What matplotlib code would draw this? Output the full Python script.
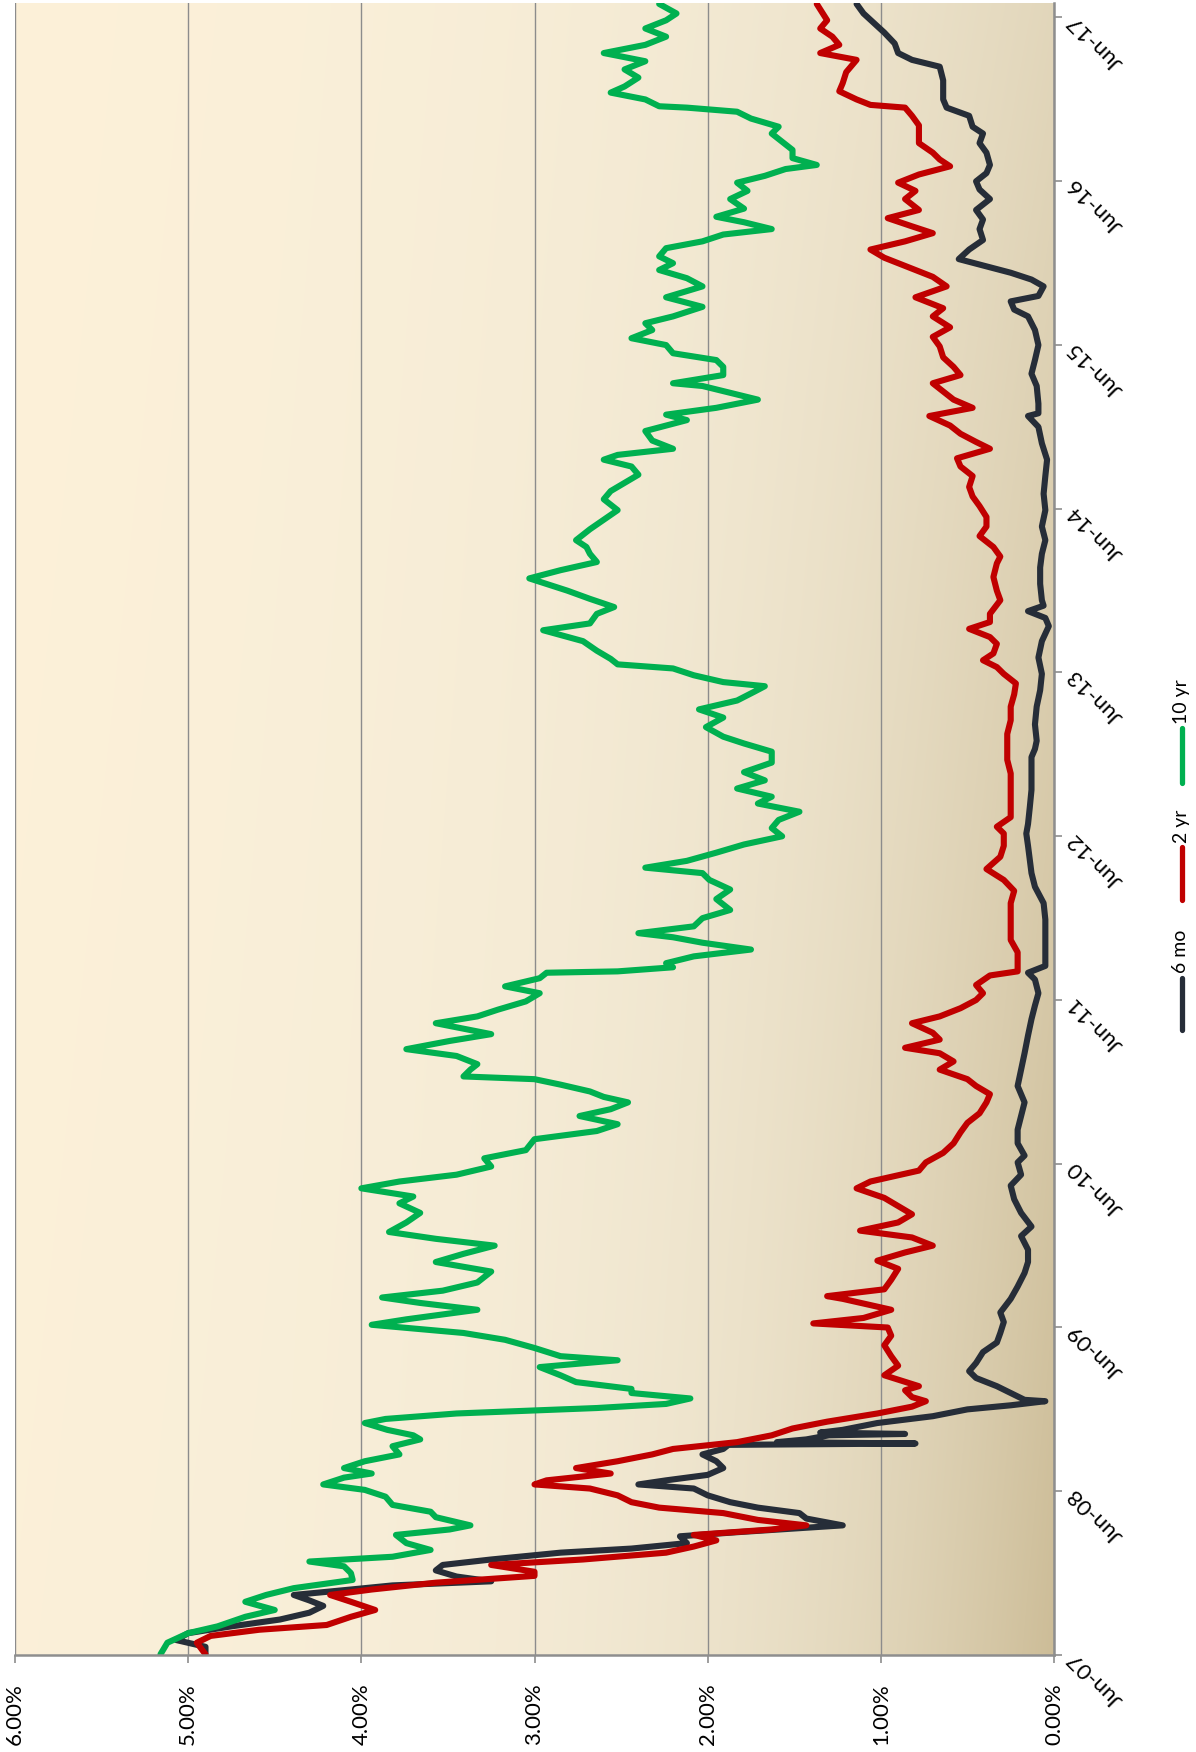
import numpy as np
import pandas as pd
import matplotlib
matplotlib.use('Agg')
import matplotlib.pyplot as plt
import matplotlib.dates as mdates
from matplotlib.lines import Line2D
from matplotlib.ticker import FuncFormatter

plt.rcParams['font.family'] = ['Lato', 'DejaVu Sans']

START = pd.Timestamp('2007-06-01')
END = pd.Timestamp('2017-07-03')

## DATA: months after Jun-07 and yield in percent
mo6_months = [0.05, 0.6, 1.1, 1.6, 2.1, 2.6, 3.1, 3.6, 4.0, 4.4, 4.8, 5.1, 5.4, 5.75, 6.2, 6.6, 7.0,
              7.5, 7.8, 8.2, 8.7, 9.0, 9.5, 10.0, 10.4, 10.8, 11.2, 11.7, 12.2, 12.5, 12.8, 13.2,
              13.7, 14.2, 14.7, 15.1, 15.4, 15.5, 15.6, 15.8, 16.1, 16.2, 16.3, 16.5, 17.0, 17.5,
              18.0, 18.3, 18.5, 18.6, 18.7, 19.2, 19.7, 20.3, 20.8, 21.4, 22.2, 22.9, 23.6, 24.4,
              25.1, 26.1, 27.0, 28.0, 28.8, 29.7, 30.7, 31.4, 32.4, 33.4, 34.4, 35.2, 36.1, 36.6,
              37.5, 38.5, 39.5, 40.5, 41.7, 42.9, 44.1, 45.4, 46.6, 47.6, 48.5, 49.5, 50.0, 50.5,
              51.5, 52.7, 53.9, 55.1, 56.3, 57.3, 58.3, 59.3, 60.2, 60.9, 62.1, 63.4, 64.6, 65.8,
              66.4, 67.0, 68.2, 69.5, 70.7, 71.9, 73.1, 74.3, 75.4, 76.0, 76.5, 76.9, 77.3, 78.5,
              79.7, 80.7, 81.7, 82.7, 83.9, 85.1, 86.4, 87.6, 88.8, 90.0, 90.8, 91.0, 91.7, 93.0,
              93.9, 94.9, 96.0, 97.1, 98.1, 98.6, 99.2, 99.6, 100.3, 100.8, 101.3, 101.8, 102.3,
              103.0, 103.7, 104.5, 105.2, 105.9, 106.7, 107.4, 108.0, 108.6, 109.2, 110.1, 110.8,
              111.5, 112.0, 112.8, 113.4, 114.0, 114.7, 115.4, 116.4, 116.9, 117.4, 118.1, 118.9,
              119.6, 120.3, 121.0]
mo6_yield = [4.90, 4.90, 5.07, 5.00, 4.75, 4.47, 4.30, 4.22, 4.30, 4.39, 4.06, 3.82, 3.25, 3.45,
             3.57, 3.53, 3.25, 2.85, 2.44, 2.12, 2.16, 1.83, 1.22, 1.43, 1.47, 1.71, 1.87, 2.00,
             2.08, 2.40, 2.24, 2.00, 1.91, 1.95, 2.03, 1.91, 1.88, 0.80, 1.60, 1.43, 1.30, 0.86,
             1.35, 1.22, 1.02, 0.70, 0.50, 0.25, 0.12, 0.05, 0.17, 0.25, 0.33, 0.45, 0.49, 0.45,
             0.41, 0.33, 0.31, 0.29, 0.31, 0.25, 0.21, 0.17, 0.15, 0.15, 0.19, 0.13, 0.19, 0.23,
             0.25, 0.19, 0.21, 0.17, 0.21, 0.21, 0.19, 0.17, 0.21, 0.19, 0.17, 0.15, 0.13, 0.11,
             0.09, 0.11, 0.15, 0.05, 0.05, 0.05, 0.05, 0.06, 0.11, 0.13, 0.14, 0.15, 0.16, 0.15,
             0.14, 0.13, 0.13, 0.13, 0.11, 0.10, 0.11, 0.10, 0.08, 0.07, 0.09, 0.07, 0.03, 0.05,
             0.15, 0.06, 0.07, 0.08, 0.08, 0.07, 0.05, 0.07, 0.05, 0.06, 0.05, 0.04, 0.07, 0.09,
             0.15, 0.09, 0.09, 0.10, 0.13, 0.11, 0.09, 0.11, 0.15, 0.23, 0.25, 0.09, 0.06, 0.13,
             0.25, 0.40, 0.55, 0.49, 0.41, 0.43, 0.41, 0.45, 0.37, 0.43, 0.45, 0.39, 0.37, 0.39,
             0.43, 0.41, 0.47, 0.49, 0.62, 0.64, 0.64, 0.64, 0.66, 0.82, 0.90, 0.92, 0.98, 1.04,
             1.10, 1.14]

yr2_months = [0.05, 0.9, 1.4, 1.85, 2.2, 2.8, 3.3, 3.9, 4.4, 4.8, 5.3, 5.8, 6.1, 6.6, 7.0, 7.5,
              7.95, 8.4, 8.8, 9.2, 9.5, 9.9, 10.4, 10.8, 11.2, 11.7, 12.2, 12.5, 12.8, 13.3, 13.7,
              14.2, 14.7, 15.1, 15.6, 16.1, 16.6, 17.1, 17.7, 18.2, 18.6, 18.9, 19.4, 19.7, 20.5,
              21.2, 21.9, 22.7, 23.4, 24.0, 24.3, 24.7, 25.3, 26.1, 26.3, 26.8, 27.5, 28.3, 28.9,
              29.5, 30.0, 30.6, 31.1, 31.7, 32.3, 32.9, 33.5, 34.2, 34.7, 35.5, 36.1, 36.8, 37.5,
              38.3, 39.0, 39.7, 40.5, 41.1, 41.7, 42.2, 42.9, 43.5, 44.1, 44.5, 45.1, 45.6, 46.3,
              46.8, 47.4, 48.0, 48.5, 49.1, 49.8, 50.1, 50.7, 51.5, 52.4, 53.4, 54.1, 55.1, 56.0,
              56.8, 57.6, 58.5, 59.3, 60.2, 60.7, 61.4, 62.4, 63.4, 64.6, 65.6, 66.5, 67.5, 68.5,
              69.5, 70.4, 71.2, 71.9, 72.4, 72.9, 73.4, 74.1, 74.6, 75.2, 75.7, 76.3, 77.3, 78.0,
              79.0, 80.0, 80.5, 81.2, 82.0, 82.7, 83.4, 84.2, 84.9, 85.6, 86.4, 87.1, 87.7, 88.4,
              88.9, 89.5, 90.1, 90.8, 91.4, 92.0, 92.6, 93.2, 93.8, 94.4, 95.1, 95.9, 96.6, 97.3,
              98.1, 98.7, 99.5, 100.3, 101.0, 101.8, 102.4, 103.0, 103.6, 104.2, 104.7, 105.3,
              105.9, 106.7, 107.3, 107.9, 108.5, 109.1, 109.6, 110.1, 110.8, 111.5, 112.1, 112.8,
              113.4, 113.6, 114.0, 114.6, 115.2, 116.0, 116.9, 117.4, 118.0, 118.6, 119.2, 119.8,
              120.6, 121.0]
yr2_yield = [4.90, 4.95, 4.87, 4.59, 4.20, 4.06, 3.92, 4.06, 4.18, 3.94, 3.57, 3.00, 3.00, 3.25,
             2.72, 2.24, 2.08, 1.95, 2.08, 1.63, 1.43, 1.71, 1.91, 2.28, 2.44, 2.52, 2.68, 3.00,
             2.93, 2.56, 2.76, 2.52, 2.32, 2.20, 1.83, 1.63, 1.51, 1.31, 1.02, 0.82, 0.74, 0.82,
             0.86, 0.78, 0.98, 0.90, 0.94, 0.98, 0.94, 0.96, 1.39, 1.10, 0.94, 1.22, 1.31, 0.98,
             0.94, 0.90, 1.02, 0.86, 0.70, 0.82, 1.12, 0.90, 0.82, 0.90, 0.98, 1.14, 1.06, 0.78,
             0.74, 0.64, 0.58, 0.54, 0.50, 0.43, 0.39, 0.37, 0.45, 0.50, 0.66, 0.58, 0.66, 0.86,
             0.66, 0.70, 0.82, 0.66, 0.54, 0.45, 0.41, 0.45, 0.37, 0.21, 0.21, 0.21, 0.25, 0.25,
             0.25, 0.25, 0.23, 0.29, 0.39, 0.31, 0.29, 0.29, 0.33, 0.25, 0.25, 0.25, 0.25, 0.27,
             0.27, 0.27, 0.25, 0.25, 0.23, 0.22, 0.29, 0.33, 0.41, 0.35, 0.33, 0.37, 0.49, 0.37,
             0.37, 0.31, 0.33, 0.35, 0.33, 0.31, 0.35, 0.43, 0.39, 0.39, 0.43, 0.47, 0.49, 0.47,
             0.54, 0.56, 0.37, 0.45, 0.54, 0.60, 0.72, 0.47, 0.58, 0.64, 0.70, 0.54, 0.58, 0.64,
             0.66, 0.70, 0.60, 0.70, 0.64, 0.80, 0.62, 0.70, 0.86, 0.98, 1.06, 0.86, 0.70, 0.82,
             0.96, 0.78, 0.86, 0.80, 0.90, 0.78, 0.60, 0.66, 0.70, 0.78, 0.78, 0.78, 0.82, 0.86,
             1.06, 1.14, 1.24, 1.22, 1.20, 1.14, 1.35, 1.24, 1.28, 1.35, 1.31, 1.35, 1.37]

yr10_months = [0.05, 0.9, 1.6, 2.1, 2.8, 3.3, 3.9, 4.4, 4.9, 5.5, 6.0, 6.5, 6.85, 7.2, 7.7, 8.2,
               8.8, 9.2, 9.5, 10.1, 10.5, 11.0, 11.6, 12.1, 12.5, 13.0, 13.3, 13.7, 14.2, 14.7,
               15.3, 15.8, 16.1, 16.5, 17.0, 17.3, 17.7, 18.1, 18.4, 18.8, 19.2, 19.5, 20.0, 20.5,
               21.1, 21.6, 21.9, 22.5, 23.1, 23.6, 24.2, 24.6, 25.3, 25.8, 26.2, 26.7, 27.3, 28.1,
               28.8, 29.4, 30.0, 30.5, 31.0, 31.7, 32.4, 33.1, 33.6, 34.2, 34.7, 35.2, 35.8, 36.4,
               37.0, 37.8, 38.4, 38.9, 39.5, 40.0, 40.5, 40.9, 41.3, 41.8, 42.2, 42.4, 42.9, 43.3,
               43.9, 44.4, 45.0, 45.5, 46.0, 46.3, 46.8, 47.3, 47.9, 48.5, 49.0, 49.6, 50.0, 50.1,
               50.4, 50.7, 51.2, 51.7, 52.2, 52.6, 52.9, 53.4, 54.0, 54.6, 55.4, 56.1, 56.8, 57.3,
               57.7, 58.2, 58.8, 59.4, 60.0, 60.6, 61.2, 61.8, 62.4, 62.9, 63.5, 64.1, 64.7, 65.4,
               66.2, 66.8, 67.3, 68.0, 68.7, 69.3, 69.95, 70.6, 71.0, 71.3, 71.8, 72.3, 72.6, 73.0,
               73.6, 74.3, 75.1, 75.6, 76.3, 76.8, 77.4, 78.0, 78.9, 79.5, 80.1, 80.7, 81.2, 81.7,
               82.5, 83.2, 83.9, 84.7, 85.3, 85.9, 86.5, 87.1, 87.6, 87.95, 88.4, 89.0, 89.7, 90.1,
               90.5, 90.9, 91.4, 92.0, 92.5, 93.0, 93.2, 93.8, 94.4, 94.9, 95.4, 96.0, 96.5, 97.1,
               97.6, 98.1, 98.8, 99.5, 100.3, 100.9, 101.5, 102.0, 102.5, 103.1, 103.6, 104.1,
               104.5, 105.0, 105.4, 106.0, 106.7, 107.3, 107.9, 108.4, 108.9, 109.2, 109.7, 110.3,
               110.9, 111.5, 112.0, 112.6, 113.1, 113.4, 113.5, 114.0, 114.5, 114.95, 115.6, 116.2,
               116.8, 117.4, 118.0, 118.6, 119.2, 119.8, 120.3, 121.0]
yr10_yield = [5.16, 5.12, 5.00, 4.83, 4.67, 4.50, 4.67, 4.55, 4.39, 4.05, 4.06, 4.10, 4.30, 3.82,
              3.60, 3.74, 3.80, 3.49, 3.37, 3.57, 3.60, 3.82, 3.86, 3.98, 4.22, 4.10, 3.94, 4.10,
              3.98, 3.78, 3.82, 3.66, 3.70, 3.85, 3.98, 3.86, 3.45, 2.64, 2.24, 2.10, 2.44, 2.44,
              2.76, 2.85, 2.97, 2.52, 2.85, 3.00, 3.17, 3.41, 3.94, 3.74, 3.33, 3.66, 3.88, 3.53,
              3.33, 3.25, 3.57, 3.41, 3.23, 3.57, 3.84, 3.74, 3.66, 3.78, 3.70, 4.00, 3.78, 3.45,
              3.25, 3.29, 3.05, 3.00, 2.64, 2.52, 2.74, 2.56, 2.46, 2.60, 2.68, 2.85, 3.00, 3.41,
              3.37, 3.33, 3.45, 3.74, 3.49, 3.25, 3.45, 3.57, 3.33, 3.21, 3.05, 2.97, 3.17, 2.97,
              2.93, 2.52, 2.20, 2.24, 2.08, 1.75, 2.03, 2.20, 2.40, 2.08, 2.03, 1.87, 1.95, 1.87,
              1.99, 2.03, 2.36, 2.12, 1.95, 1.79, 1.57, 1.63, 1.59, 1.47, 1.71, 1.63, 1.83, 1.67,
              1.79, 1.63, 1.63, 1.79, 1.91, 2.01, 1.91, 2.05, 1.83, 1.73, 1.67, 1.91, 2.08, 2.20,
              2.52, 2.56, 2.64, 2.72, 2.95, 2.68, 2.64, 2.54, 2.68, 2.81, 3.03, 2.85, 2.64, 2.68,
              2.70, 2.76, 2.68, 2.60, 2.52, 2.60, 2.56, 2.48, 2.40, 2.44, 2.60, 2.52, 2.20, 2.32,
              2.36, 2.24, 2.12, 2.24, 1.95, 1.71, 1.87, 2.03, 2.20, 1.91, 1.91, 1.95, 2.20, 2.24,
              2.44, 2.32, 2.36, 2.20, 2.03, 2.24, 2.03, 2.12, 2.28, 2.20, 2.28, 2.24, 2.03, 1.91,
              1.63, 1.79, 1.95, 1.79, 1.87, 1.77, 1.83, 1.67, 1.55, 1.37, 1.51, 1.51, 1.57, 1.63,
              1.59, 1.75, 1.83, 2.12, 2.28, 2.36, 2.56, 2.48, 2.40, 2.48, 2.36, 2.60, 2.36, 2.24,
              2.36, 2.24, 2.18, 2.28]

series_names = ['6 mo', '2 yr', '10 yr']
series_colors = ['#262D38', '#C00000', '#00B050']
yield_ticks = [0, 1, 2, 3, 4, 5, 6]


def to_dates(months):
    return (START + pd.to_timedelta(np.asarray(months) * 30.4375, unit='D')).to_numpy()


def background(n=300):
    # cream to tan fill, darkest in the lower right corner
    u = np.linspace(0, 1, n)[None, :]
    r = np.linspace(0, 1, n)[:, None]
    light = np.array([253, 241, 217]) / 255
    mid = np.array([241, 234, 215]) / 255
    dark = np.array([205, 189, 152]) / 255
    s = np.clip(0.85 * u + 0.15 * r, 0, 1)[..., None]
    base = light * (1 - s) + mid * s
    d = (u ** 4 * (0.45 + 0.55 * r))[..., None]
    return base * (1 - d) + dark * d


W, H = 1196, 1752
fig = plt.figure(figsize=(W / 100, H / 100), dpi=100)
rect = [15 / W, (H - 1655) / H, (1054 - 15) / W, (1655 - 3) / H]

bg = fig.add_axes(rect, zorder=0)
bg.imshow(background(), extent=[0, 1, 0, 1], aspect='auto', interpolation='bilinear')
bg.axis('off')

ax = fig.add_axes(rect, zorder=1)
ax.set_facecolor('none')

all_months = [mo6_months, yr2_months, yr10_months]
all_yields = [mo6_yield, yr2_yield, yr10_yield]
for months, ylds, name, color in zip(all_months, all_yields, series_names, series_colors):
    ax.plot(ylds, to_dates(months), color=color, lw=4.4, label=name,
            solid_joinstyle='round', solid_capstyle='round')

ax.set_xlim(6, 0)
ax.set_ylim(START, END)
ax.set_xticks(yield_ticks)
ax.xaxis.set_major_formatter(FuncFormatter(lambda v, _: f'{v:.2f}%'))
ax.yaxis.tick_right()
ax.yaxis.set_major_locator(mdates.YearLocator(base=1, month=6, day=1))
ax.yaxis.set_major_formatter(mdates.DateFormatter('%b-%y'))

ax.grid(axis='x', color='#8C8C8C', lw=1.0)
for side in ['left', 'top']:
    ax.spines[side].set_visible(False)
for side in ['right', 'bottom']:
    ax.spines[side].set_color('#8E8E8E')
    ax.spines[side].set_linewidth(1.8)

ax.tick_params(axis='both', direction='out', length=6, width=1.2, color='#8E8E8E',
               labelsize=16, labelcolor='black')
ax.tick_params(axis='x', labelrotation=90, pad=14)
ax.tick_params(axis='y', pad=6)

fig.canvas.draw()
for lbl in ax.get_yticklabels():
    lbl.set_rotation(135)
    lbl.set_rotation_mode('anchor')
    lbl.set_horizontalalignment('right')
    lbl.set_verticalalignment('center')

# legend, stacked bottom to top down the right edge
key_spans = [(978, 1030, 973), (847, 900, 843), (728, 783, 724)]
for name, color, (top, bottom, text_y) in zip(series_names, series_colors, key_spans):
    x = 1182 / W
    fig.add_artist(Line2D([x, x], [1 - top / H, 1 - bottom / H], transform=fig.transFigure,
                          color=color, lw=3.8, solid_capstyle='round'))
    fig.text(1181 / W, 1 - text_y / H, name, rotation=90, ha='center', va='bottom', fontsize=14)

fig.savefig('out.png', dpi=100)
